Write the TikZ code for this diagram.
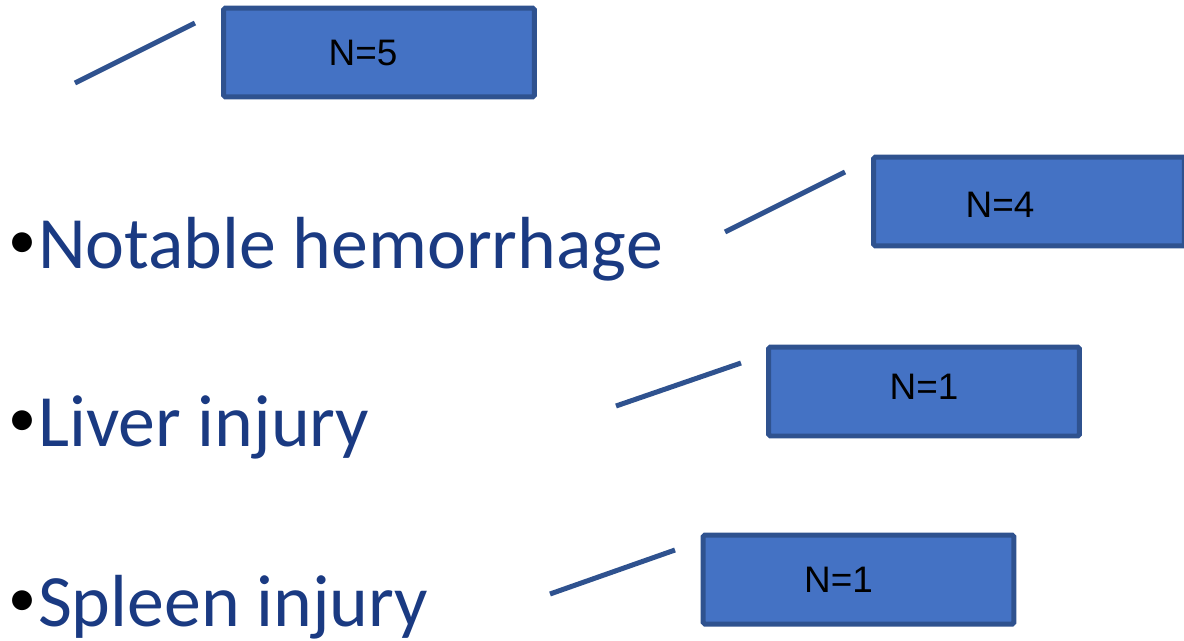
\documentclass[tikz,border=0pt]{standalone}
\usepackage{fontspec}
\usepackage{xcolor}
\setmainfont{Carlito}
\newfontfamily\arialfont{Liberation Sans}
\definecolor{boxfill}{HTML}{4472C4}
\definecolor{boxedge}{HTML}{2F528F}
\definecolor{itemblue}{HTML}{1A3A82}
\newcommand{\dotmark}{{\color{black}\raisebox{5.5pt}{\fontsize{32}{32}\selectfont •}}\kern1pt}

\tikzset{
  countbox/.style={draw=boxedge, fill=boxfill, line width=0.1cm, rounded corners=1pt,
    minimum width=6.22cm, minimum height=1.78cm, inner sep=0pt},
  countlbl/.style={font=\arialfont\fontsize{21}{25}\selectfont, text=black, inner sep=0pt},
  item/.style={font=\fontsize{42}{50}\selectfont, text=itemblue, inner sep=0pt, anchor=base west},
  lead/.style={draw=boxedge, line width=0.1cm}
}

\begin{document}
\begin{tikzpicture}[x=0.02cm, y=-0.02cm]
        \useasboundingbox (0,0) rectangle (1184,640);
        % Count boxes
        \node[countbox, label={[countlbl, xshift=-0.32cm]center:N=5}] (n5) at (379,52.5) {};
        \node[countbox, label={[countlbl, xshift=-0.58cm, yshift=-0.06cm]center:N=4}] (n4) at (1029,201.5) {};
        \node[countbox, label={[countlbl, yshift=0.1cm]center:N=1}] (n1a) at (924,391.5) {};
        \node[countbox, label={[countlbl, xshift=-0.4cm]center:N=1}] (n1b) at (858.5,579.5) {};
        % Items
        \node[item] (hem) at (8,268) {\dotmark Notable hemorrhage};
        \node[item] (liv) at (8,446) {\dotmark Liver injury};
        \node[item] (spl) at (8,626) {\dotmark Spleen injury};
        % Lead lines (free ends)
        \coordinate (h5a) at (75,83);   \coordinate (h5b) at (195,23);
        \coordinate (h4a) at (725,232); \coordinate (h4b) at (845,172);
        \coordinate (h1a) at (616,406); \coordinate (h1b) at (741,363);
        \coordinate (h0a) at (550,594); \coordinate (h0b) at (675,550);
        \draw[lead] (h5a) -- (h5b);
        \draw[lead] (h4a) -- (h4b);
        \draw[lead] (h1a) -- (h1b);
        \draw[lead] (h0a) -- (h0b);
    \end{tikzpicture}
\end{document}
